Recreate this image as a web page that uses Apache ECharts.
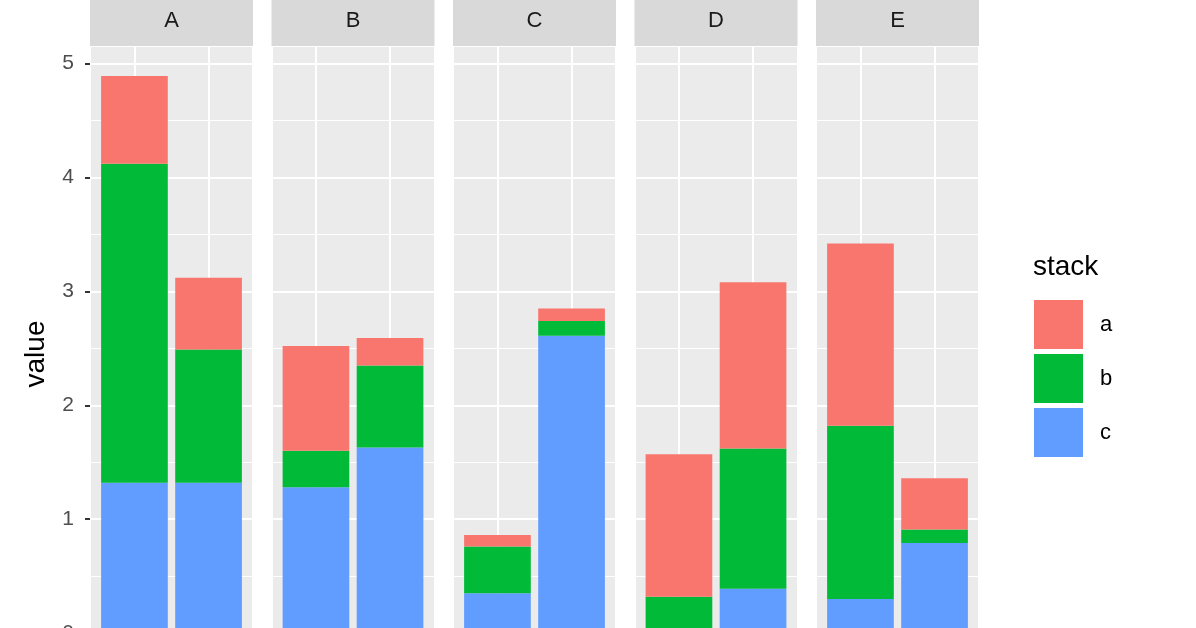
<!DOCTYPE html>
<html>
<head>
<meta charset="utf-8">
<title>stack</title>
<script src="https://cdn.jsdelivr.net/npm/echarts@6.0.0/dist/echarts.min.js"></script>
<style>
	html, body { margin: 0; padding: 0; background: #fff; }
	#echart { width: 1196px; height: 628px; }
</style>
</head>
<body>
<div id="echart"></div>
<script>
(function() {
	'use strict'

	/*-----data-----*/
	var facets = ['A', 'B', 'C', 'D', 'E'];
	var barCats = ['1', '2'];
	var stackNames = ['a', 'b', 'c'];
	// two bars per facet, in facet order
	var valuesA = [0.77, 0.63, 0.92, 0.24, 0.10, 0.11, 1.25, 1.46, 1.60, 0.45];
	var valuesB = [2.80, 1.17, 0.32, 0.72, 0.41, 0.13, 0.30, 1.23, 1.52, 0.12];
	var valuesC = [1.32, 1.32, 1.28, 1.63, 0.35, 2.61, 0.02, 0.39, 0.30, 0.79];
	var yTicks = [0, 1, 2, 3, 4, 5];

	var colors = ['#F8766D', '#00BA38', '#619CFF'];
	var font = 'Liberation Sans, Arial, sans-serif';

	var panelLeft = 90, panelStep = 181.5, panelWidth = 163;
	var panelTop = 47, panelHeight = 614;
	var yMin = -0.245, yMax = 5.145;
	// ggplot discrete scale: 0.6 units padding each side -> 2.2 units across
	var unit = panelWidth / 2.2;

	var grids = [], xAxes = [], yAxes = [], series = [], graphics = [];
	var byStack = [valuesA, valuesB, valuesC];
	var n = facets.length;

	/*-----panels (background + grid lines)-----*/
	facets.forEach(function(f, i) {
		var left = panelLeft + i * panelStep;
		grids.push({
			left: left,
			top: panelTop,
			width: panelWidth,
			height: panelHeight,
			show: true,
			backgroundColor: '#EBEBEB',
			borderWidth: 0,
			outerBoundsMode: 'none'
		});
		xAxes.push({
			type: 'value',
			gridIndex: i,
			min: 0.4,
			max: 2.6,
			splitNumber: 2,
			minInterval: 1,
			maxInterval: 1,
			axisLine: { show: false },
			axisTick: { show: false },
			axisLabel: { show: false },
			splitLine: { lineStyle: { color: '#FFFFFF', width: 2 } }
		});
		yAxes.push({
			type: 'value',
			gridIndex: i,
			min: yMin,
			max: yMax,
			splitNumber: 5,
			minInterval: 1,
			maxInterval: 1,
			name: i === 0 ? 'value' : '',
			nameLocation: 'middle',
			nameRotate: 90,
			nameGap: 40,
			nameTextStyle: { fontSize: 28, color: '#000000', fontFamily: font },
			axisLine: { show: false },
			axisTick: {
				show: i === 0,
				length: 5,
				customValues: yTicks,
				lineStyle: { color: '#333333', width: 2 }
			},
			axisLabel: {
				show: i === 0,
				customValues: yTicks,
				margin: 16,
				fontSize: 21,
				color: '#4D4D4D',
				fontFamily: font
			},
			splitLine: { lineStyle: { color: '#FFFFFF', width: 2 } },
			minorTick: { show: false, splitNumber: 2 },
			minorSplitLine: { show: true, lineStyle: { color: '#FFFFFF', width: 1 } }
		});

		/*-----strip-----*/
		graphics.push({
			type: 'rect',
			left: left,
			top: -6,
			shape: { width: panelWidth, height: 52 },
			style: { fill: '#D9D9D9' },
			silent: true
		});
		graphics.push({
			type: 'text',
			x: left + panelWidth / 2,
			y: 21,
			style: {
				text: f,
				fill: '#1A1A1A',
				font: '22px ' + font,
				align: 'center',
				verticalAlign: 'middle'
			},
			silent: true
		});
	});

	/*-----bars-----*/
	facets.forEach(function(f, i) {
		var left = panelLeft + i * panelStep;
		var g = n + i;
		grids.push({
			left: left + unit * 0.1,
			top: panelTop,
			width: unit * 2,
			height: panelHeight,
			show: false,
			outerBoundsMode: 'none'
		});
		xAxes.push({
			type: 'category',
			gridIndex: g,
			data: barCats,
			boundaryGap: true,
			axisLine: { show: false },
			axisTick: { show: false },
			axisLabel: { show: false },
			splitLine: { show: false }
		});
		yAxes.push({
			type: 'value',
			gridIndex: g,
			min: yMin,
			max: yMax,
			axisLine: { show: false },
			axisTick: { show: false },
			axisLabel: { show: false },
			splitLine: { show: false }
		});
		// ggplot stacks the first level on top, so push c, b, a
		for (var k = 2; k >= 0; k--) {
			series.push({
				name: stackNames[k],
				type: 'bar',
				stack: 'facet' + i,
				xAxisIndex: g,
				yAxisIndex: g,
				barWidth: '90%',
				itemStyle: { color: colors[k] },
				data: byStack[k].slice(i * 2, i * 2 + 2)
			});
		}
	});

	graphics.push({
		type: 'text',
		x: 1033,
		y: 267,
		style: {
			text: 'stack',
			fill: '#000000',
			font: '28px ' + font,
			align: 'left',
			verticalAlign: 'middle'
		}
	});

	var chart = echarts.init(document.getElementById('echart'));
	chart.setOption({
		backgroundColor: '#FFFFFF',
		animation: false,
		grid: grids,
		xAxis: xAxes,
		yAxis: yAxes,
		series: series,
		graphic: graphics,
		legend: {
			data: stackNames,
			orient: 'vertical',
			left: 1034,
			top: 300,
			padding: 0,
			itemWidth: 49,
			itemHeight: 49,
			itemGap: 5,
			icon: 'rect',
			selectedMode: false,
			textStyle: { fontSize: 22, color: '#000000', fontFamily: font, padding: [0, 0, 0, 12] }
		}
	});
})();
</script>
</body>
</html>
